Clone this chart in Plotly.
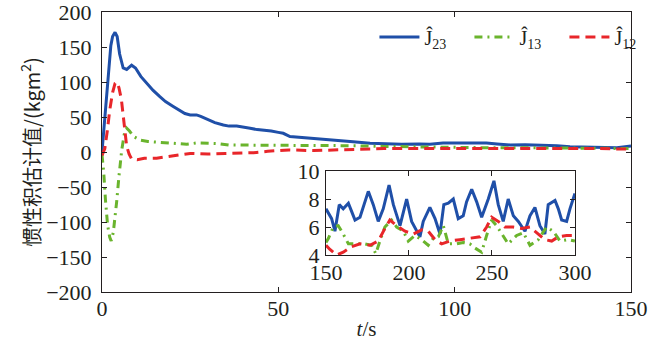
import plotly.graph_objects as go

# ---------------- main panel data (t in s, value in kgm^2) ----------------
t_j23 = [0, 0.5, 1, 1.5, 2, 2.5, 3, 3.7, 4.3, 5, 6, 7, 8.4, 9.5, 11, 12.7, 14.5, 16.4, 18, 20.2,
         22, 23.5, 25, 26.8, 28, 29.7, 32, 34.4, 36, 38.2, 40, 42, 44, 46.7, 48, 50, 51.4, 53.3,
         57, 61.8, 66, 71.2, 76, 80.7, 85, 90, 93, 96.7, 102, 109, 112, 115.7, 120, 125, 129,
         132.7, 137, 142, 146, 150]
v_j23 = [0, 30, 65, 100, 130, 152, 165, 171, 165, 140, 120, 118, 124, 120, 108, 98, 88, 79, 72, 65,
         59, 55, 53, 53, 51, 47, 42, 38.6, 37, 37, 36, 34, 32, 31, 30, 28, 26.7, 22,
         20.5, 19.5, 17, 14.7, 12.5, 11.4, 11, 11.4, 11, 13, 13, 13, 11.5, 10, 10.5, 10, 9,
         7.6, 7, 5.7, 6, 8.5]

t_j13 = [0, 0.5, 1, 1.6, 2.2, 2.6, 3.2, 3.8, 4.2, 4.8, 5.6, 6.3, 7, 7.8, 9, 10.8, 13, 16, 20, 24,
         27, 29.7, 33, 36, 39, 45, 53, 60, 70, 80, 90, 100, 110, 120, 130, 140, 150]
v_j13 = [-4, -30, -70, -105, -122, -127, -115, -90, -69, -35, 3, 25, 34, 30, 22, 17, 15, 14, 12, 11,
         13, 13, 12, 10, 10, 10, 10, 9, 9, 8, 7, 6, 6, 6, 6, 5, 5]

t_j12 = [0, 0.8, 1.5, 2.2, 3, 3.7, 4.2, 4.8, 5.5, 6, 6.5, 7, 7.7, 8.4, 10, 12, 14, 15.5, 18, 20,
         22, 25, 30, 35, 39, 43, 47, 50, 53, 60, 70, 80, 90, 100, 110, 120, 130, 140, 150]
v_j12 = [-5, 5, 30, 60, 85, 98, 100, 92, 75, 55, 30, 8, -3, -10, -11, -9, -9, -9, -7, -5,
         -4, -2, -3, -2, -2, -1, 1, 2, 3, 2, 4, 5, 5, 5, 6, 6, 5, 5, 4]

# ---------------- inset data (t = 150..300 s) ----------------
ti_j23 = [150, 153.4, 155.4, 158, 160.4, 163.5, 165.5, 167.5, 170.5, 175.5, 178.5, 181.5, 184.5,
          188, 190.6, 194.6, 198.6, 201.6, 206.6, 208.6, 212.6, 215.7, 218.7, 221, 223.7, 226.7,
          229.7, 232.7, 234.7, 237.8, 240.8, 243.8, 247.8, 251.2, 253.8, 256.8, 259.8, 262.9,
          265.9, 269.9, 272.9, 275.9, 278.9, 281.9, 283.9, 288, 290, 292, 295, 297, 300]
vi_j23 = [7.3, 6.6, 5.7, 7.6, 7.3, 7.7, 7.1, 6.5, 6.7, 8.55, 7.6, 6.4, 7.3,
          9.0, 7.6, 6.1, 8.0, 6.4, 5.3, 6.4, 7.4, 6.6, 5.5, 7.6, 7.7, 8.0,
          6.6, 6.8, 7.8, 8.7, 7.8, 6.7, 8.0, 9.3, 7.6, 6.4, 8.0, 6.8,
          6.4, 5.7, 6.8, 7.4, 6.1, 5.5, 7.6, 7.9, 7.3, 6.5, 6.4, 7.3, 8.4]

ti_j13 = [150, 151.5, 154.4, 157.4, 160.4, 163.5, 168.5, 173.5, 177.5, 180, 182.5, 185.5, 189.5,
          192.6, 196.6, 199.6, 203.6, 207.6, 211.6, 214.7, 217.7, 220.7, 223.7, 228.7, 232.7,
          236.7, 239.8, 243.8, 246.8, 249.8, 252.8, 256.8, 259.8, 264.9, 268.9, 272.9, 277.9,
          282.9, 287, 291, 296, 300]
vi_j13 = [4.9, 5.2, 6.0, 6.1, 5.5, 4.8, 4.8, 4.8, 4.7, 4.1, 5.0, 6.0, 6.5,
          6.0, 5.7, 5.0, 5.4, 5.1, 4.7, 5.2, 5.3, 6.1, 4.8, 4.8, 4.9,
          4.8, 4.5, 4.2, 5.4, 6.5, 6.1, 5.4, 4.8, 5.4, 5.6, 4.7, 5.1,
          6.0, 5.7, 5.0, 5.1, 5.0]

ti_j12 = [150, 152.4, 156.4, 160.4, 165.5, 170.5, 176.5, 181.5, 185.5, 188.5, 192.6, 197.6, 202.6,
          207.6, 211.6, 215.7, 219.7, 224.7, 230.7, 236.7, 242.8, 246.8, 249.8, 253.8, 257.8,
          262.9, 267.9, 272.9, 277.9, 281.9, 286, 290, 295, 299]
vi_j12 = [4.7, 4.4, 4.0, 4.2, 4.6, 4.8, 4.7, 5.0, 5.9, 6.5, 6.1, 5.7, 5.5,
          5.8, 5.7, 5.1, 4.8, 5.0, 5.1, 5.2, 5.3, 6.0, 6.7, 6.4, 6.0,
          6.0, 5.9, 6.0, 5.5, 5.1, 5.0, 5.3, 5.4, 5.4]

names = ["Ĵ<sub>23</sub>", "Ĵ<sub>13</sub>", "Ĵ<sub>12</sub>"]
colors = ["#1f4fa8", "#6ab42d", "#e8262a"]
dashes = ["solid", "8px,5px,2px,5px", "10px,6px"]

SERIF = "Liberation Serif, Times New Roman, serif"

fig = go.Figure()
main = [(t_j23, v_j23), (t_j13, v_j13), (t_j12, v_j12)]
inset = [(ti_j23, vi_j23), (ti_j13, vi_j13), (ti_j12, vi_j12)]
for i in range(3):
    fig.add_trace(go.Scatter(x=main[i][0], y=main[i][1], mode="lines", name=names[i],
                             line=dict(color=colors[i], width=3, dash=dashes[i]),
                             xaxis="x", yaxis="y"))
for i in range(3):
    fig.add_trace(go.Scatter(x=inset[i][0], y=inset[i][1], mode="lines", showlegend=False,
                             line=dict(color=colors[i], width=3, dash=dashes[i]),
                             xaxis="x2", yaxis="y2"))

axis_common = dict(showline=True, linecolor="#231f20", linewidth=1, mirror="ticks",
                   ticks="inside", ticklen=5, tickcolor="#231f20", showgrid=False,
                   zeroline=False, automargin=False, ticklabeloverflow="allow",
                   tickfont=dict(family=SERIF, size=22, color="#231f20"))

fig.update_layout(
    width=650, height=351,
    margin=dict(l=102, r=19, t=12, b=59, autoexpand=False),
    paper_bgcolor="white", plot_bgcolor="white",
    font=dict(family=SERIF, size=20, color="#231f20"),
    xaxis=dict(range=[0, 150], tickvals=[0, 50, 100, 150], domain=[0, 1], anchor="y",
               ticklabelstandoff=-3,
               title=dict(text="<i>t</i>/s", font=dict(family=SERIF, size=21), standoff=0),
               **axis_common),
    yaxis=dict(range=[-200, 200], tickvals=list(range(-200, 201, 50)), domain=[0, 1], anchor="x",
               ticklabelstandoff=5,
               title=dict(text="惯性积估计值/(kgm<sup>2</sup>)",
                          font=dict(family="Noto Sans CJK SC, " + SERIF, size=20), standoff=0),
               **axis_common),
    xaxis2=dict(range=[150, 300], tickvals=[150, 200, 250, 300], domain=[0.4234, 0.894],
                anchor="y2", ticklabelstandoff=-2, **axis_common),
    yaxis2=dict(range=[4, 10], tickvals=[4, 6, 8, 10], domain=[0.132, 0.432],
                anchor="x2", ticklabelstandoff=1, **axis_common),
    legend=dict(orientation="h", x=0.515, xanchor="left", y=0.98, yanchor="top",
                bgcolor="rgba(0,0,0,0)", font=dict(family=SERIF, size=20),
                itemwidth=40, entrywidth=40, entrywidthmode="pixels", tracegroupgap=0),
    showlegend=True,
)

fig.write_html("out.html")
